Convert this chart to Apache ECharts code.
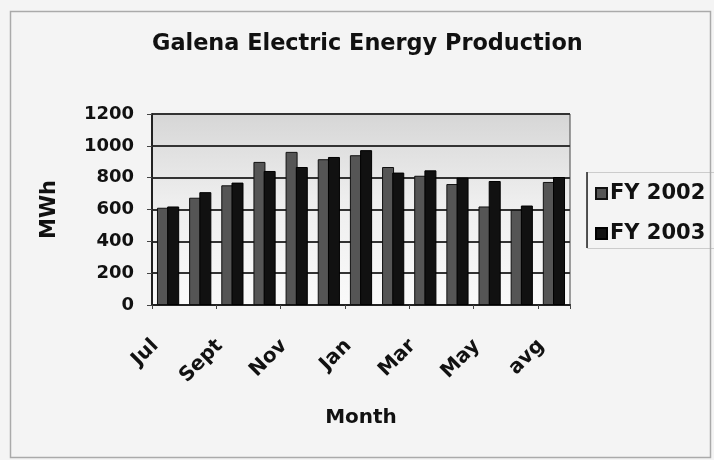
<!DOCTYPE html>
<html>
<head>
<meta charset="utf-8">
<script src="https://cdn.jsdelivr.net/npm/echarts@6/dist/echarts.min.js"></script>
<style>html,body{margin:0;padding:0;background:#f4f4f4}#c{width:714px;height:460px}</style>
</head>
<body>
<div id="c"></div>
<script>
var categories = ['Jul','Aug','Sept','Oct','Nov','Dec','Jan','Feb','Mar','Apr','May','Jun','avg'];
var fy2002 = [611, 674, 752, 899, 962, 916, 941, 867, 812, 760, 619, 598, 773];
var fy2003 = [619, 709, 769, 842, 867, 930, 973, 832, 846, 800, 779, 625, 804];
var yTicks = [0, 200, 400, 600, 800, 1000, 1200];

var FONT = '"DejaVu Sans", "Liberation Sans", Arial, sans-serif';
var chart = echarts.init(document.getElementById('c'));
chart.setOption({
  backgroundColor: '#f4f4f4',
  animation: false,
  title: {
    text: 'Galena Electric Energy Production',
    left: 147, top: 28,
    textStyle: {fontFamily: FONT, fontSize: 22.4, fontWeight: 'bold', color: '#111'}
  },
  graphic: [
    {type: 'rect', left: 8, top: 9, shape: {width: 700, height: 446}, style: {fill: 'none', stroke: '#aaa', lineWidth: 1.5}, silent: true},
    {type: 'rect', left: 587, top: 172, shape: {width: 200, height: 76}, style: {fill: '#f4f4f4', stroke: '#ccc', lineWidth: 1}, silent: true, z: -1},
    {type: 'line', shape: {x1: 587, y1: 172, x2: 587, y2: 248}, style: {stroke: '#222', lineWidth: 1.5}, silent: true}
  ],
  legend: {
    orient: 'vertical',
    left: 595, top: 183, padding: 0,
    icon: 'rect',
    itemWidth: 11, itemHeight: 11, itemGap: 19,
    textStyle: {fontFamily: FONT, fontSize: 21, fontWeight: 'bold', color: '#111', padding: [0, 0, 0, -2]},
    data: ['FY 2002', 'FY 2003']
  },
  grid: {
    left: 152, right: 144, top: 114, bottom: 155,
    show: true,
    backgroundColor: new echarts.graphic.LinearGradient(0, 0, 0, 1, [
      {offset: 0, color: '#d6d6d6'}, {offset: 0.45, color: '#eeeeee'}, {offset: 1, color: '#fafafa'}
    ]),
    borderColor: '#444', borderWidth: 1
  },
  xAxis: {
    type: 'category',
    data: categories,
    name: 'Month', nameLocation: 'middle', nameGap: 103,
    nameTextStyle: {fontFamily: FONT, fontSize: 20, fontWeight: 'bold', color: '#111'},
    axisLine: {lineStyle: {color: '#222', width: 2}},
    axisTick: {show: true, lineStyle: {color: '#444'}, length: 4},
    axisLabel: {interval: 1, rotate: 45, fontFamily: FONT, fontSize: 20, fontWeight: 'bold', color: '#111', margin: 25, padding: [0, 18, 0, 0]}
  },
  yAxis: {
    type: 'value',
    min: yTicks[0], max: yTicks[yTicks.length - 1], interval: 200,
    name: 'MWh', nameLocation: 'middle', nameGap: 92, nameRotate: 90,
    nameTextStyle: {fontFamily: FONT, fontSize: 21, fontWeight: 'bold', color: '#111'},
    axisLine: {show: true, lineStyle: {color: '#222', width: 2}},
    axisTick: {show: true, lineStyle: {color: '#444'}},
    axisLabel: {fontFamily: FONT, fontSize: 18, fontWeight: 'bold', color: '#111', margin: 18,
      formatter: function (v) { return String(v); }},
    splitLine: {lineStyle: {color: '#333', width: 1.8}}
  },
  series: [
    {name: 'FY 2002', type: 'bar', data: fy2002, barWidth: 12, barGap: '-15%',
     itemStyle: {color: '#555', borderColor: '#111', borderWidth: 1}},
    {name: 'FY 2003', type: 'bar', data: fy2003, barWidth: 12,
     itemStyle: {color: '#111', borderColor: '#000', borderWidth: 1}}
  ]
});
</script>
</body>
</html>
